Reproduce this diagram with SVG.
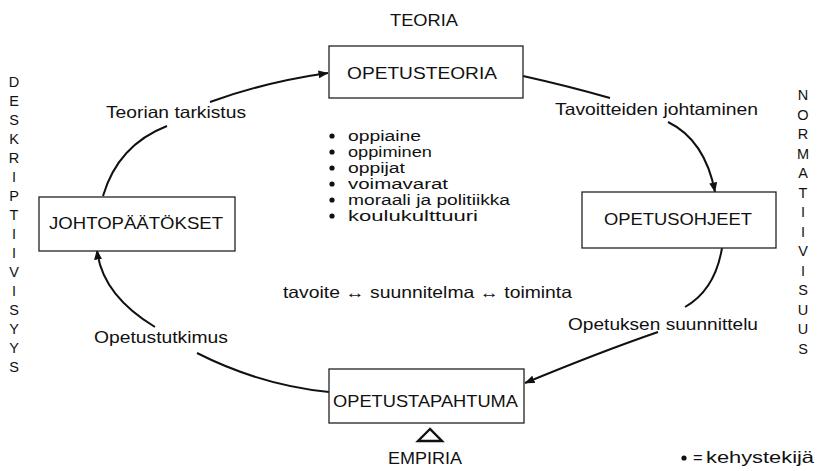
<svg xmlns="http://www.w3.org/2000/svg" width="817" height="471" viewBox="0 0 817 471">
<defs>
<marker id="ah" viewBox="0 0 10 8" refX="9.5" refY="4" markerWidth="10" markerHeight="8" markerUnits="userSpaceOnUse" orient="auto">
<path d="M0,0 L10,4 L0,8 Z" fill="#111"/>
</marker>
<style>
text{font-family:"Liberation Sans",Arial,sans-serif;fill:#111;}
.lbl{font-size:16.5px;}
.itm{font-size:15.5px;}
.box{fill:#fff;stroke:#222;stroke-width:1.3;}
.con{fill:none;stroke:#111;stroke-width:2;}
.vert{font-size:14.5px;text-anchor:middle;}
.dot{fill:#111;}
</style>
</defs>
<rect width="817" height="471" fill="#fff"/>

<g id="connectors">
<path class="con" d="M103,196 Q118,145 167,126"/>
<path class="con" d="M210,102 Q265,82 328,73" marker-end="url(#ah)"/>
<path class="con" d="M523,76 Q568,86 610,98"/>
<path class="con" d="M668,122 Q705,140 715,192" marker-end="url(#ah)"/>
<path class="con" d="M722,248 Q715,290 685,307"/>
<path class="con" d="M658,332 Q600,352 525,383" marker-end="url(#ah)"/>
<path class="con" d="M329,392 Q260,385 197,353"/>
<path class="con" d="M155,327 Q102,295 97,250" marker-end="url(#ah)"/>
</g>

<g id="opetusteoria">
<rect class="box" x="329" y="46" width="194" height="52"/>
<text class="lbl" x="347" y="79" textLength="150" lengthAdjust="spacingAndGlyphs">OPETUSTEORIA</text>
</g>
<g id="johtopaatokset">
<rect class="box" x="39" y="197" width="196" height="54"/>
<text class="lbl" x="49" y="229" textLength="174" lengthAdjust="spacingAndGlyphs">JOHTOPÄÄTÖKSET</text>
</g>
<g id="opetusohjeet">
<rect class="box" x="582" y="192" width="194" height="56"/>
<text class="lbl" x="604" y="225" textLength="148" lengthAdjust="spacingAndGlyphs">OPETUSOHJEET</text>
</g>
<g id="opetustapahtuma">
<rect class="box" x="329" y="369" width="195" height="54"/>
<text class="lbl" x="333" y="407" textLength="185" lengthAdjust="spacingAndGlyphs">OPETUSTAPAHTUMA</text>
</g>

<g id="labels">
<text class="lbl" x="390" y="26" textLength="68" lengthAdjust="spacingAndGlyphs">TEORIA</text>
<text class="lbl" x="106" y="118" textLength="140" lengthAdjust="spacingAndGlyphs">Teorian tarkistus</text>
<text class="lbl" x="555" y="115" textLength="203" lengthAdjust="spacingAndGlyphs">Tavoitteiden johtaminen</text>
<text class="lbl" x="568" y="330" textLength="190" lengthAdjust="spacingAndGlyphs">Opetuksen suunnittelu</text>
<text class="lbl" x="94" y="343" textLength="134" lengthAdjust="spacingAndGlyphs">Opetustutkimus</text>
<text class="lbl" x="283" y="298" textLength="289" lengthAdjust="spacingAndGlyphs">tavoite ↔ suunnitelma ↔ toiminta</text>
<text class="lbl" x="388" y="464" textLength="74" lengthAdjust="spacingAndGlyphs">EMPIRIA</text>
<polygon points="430,429 418,441 442,441" fill="#fff" stroke="#111" stroke-width="2.4" stroke-linejoin="miter"/>
</g>

<g id="framefactors">
<circle class="dot" cx="332" cy="136" r="2.6"/>
<circle class="dot" cx="332" cy="152" r="2.6"/>
<circle class="dot" cx="332" cy="168" r="2.6"/>
<circle class="dot" cx="332" cy="184" r="2.6"/>
<circle class="dot" cx="332" cy="200" r="2.6"/>
<circle class="dot" cx="332" cy="216" r="2.6"/>
<text class="itm" x="348" y="141" textLength="73" lengthAdjust="spacingAndGlyphs">oppiaine</text>
<text class="itm" x="348" y="157" textLength="84" lengthAdjust="spacingAndGlyphs">oppiminen</text>
<text class="itm" x="348" y="173" textLength="57" lengthAdjust="spacingAndGlyphs">oppijat</text>
<text class="itm" x="348" y="189" textLength="100" lengthAdjust="spacingAndGlyphs">voimavarat</text>
<text class="itm" x="348" y="205" textLength="162" lengthAdjust="spacingAndGlyphs">moraali ja politiikka</text>
<text class="itm" x="348" y="221" textLength="130" lengthAdjust="spacingAndGlyphs">koulukulttuuri</text>
</g>

<g id="legend">
<circle class="dot" cx="684" cy="458" r="2.6"/>
<text class="lbl" x="693" y="463">=</text>
<text class="lbl" x="706" y="463" textLength="108" lengthAdjust="spacingAndGlyphs">kehystekijä</text>
</g>

<g id="deskriptiivisyys">
<text class="vert"><tspan x="14" y="87">D</tspan><tspan x="14" y="106">E</tspan><tspan x="14" y="125">S</tspan><tspan x="14" y="144">K</tspan><tspan x="14" y="163">R</tspan><tspan x="14" y="182">I</tspan><tspan x="14" y="201">P</tspan><tspan x="14" y="220">T</tspan><tspan x="14" y="239">I</tspan><tspan x="14" y="258">I</tspan><tspan x="14" y="277">V</tspan><tspan x="14" y="296">I</tspan><tspan x="14" y="315">S</tspan><tspan x="14" y="334">Y</tspan><tspan x="14" y="353">Y</tspan><tspan x="14" y="372">S</tspan></text>
</g>
<g id="normatiivisuus">
<text class="vert"><tspan x="803" y="100">N</tspan><tspan x="803" y="120">O</tspan><tspan x="803" y="139">R</tspan><tspan x="803" y="159">M</tspan><tspan x="803" y="178">A</tspan><tspan x="803" y="198">T</tspan><tspan x="803" y="217">I</tspan><tspan x="803" y="237">I</tspan><tspan x="803" y="256">V</tspan><tspan x="803" y="276">I</tspan><tspan x="803" y="295">S</tspan><tspan x="803" y="315">U</tspan><tspan x="803" y="334">U</tspan><tspan x="803" y="354">S</tspan></text>
</g>
</svg>
